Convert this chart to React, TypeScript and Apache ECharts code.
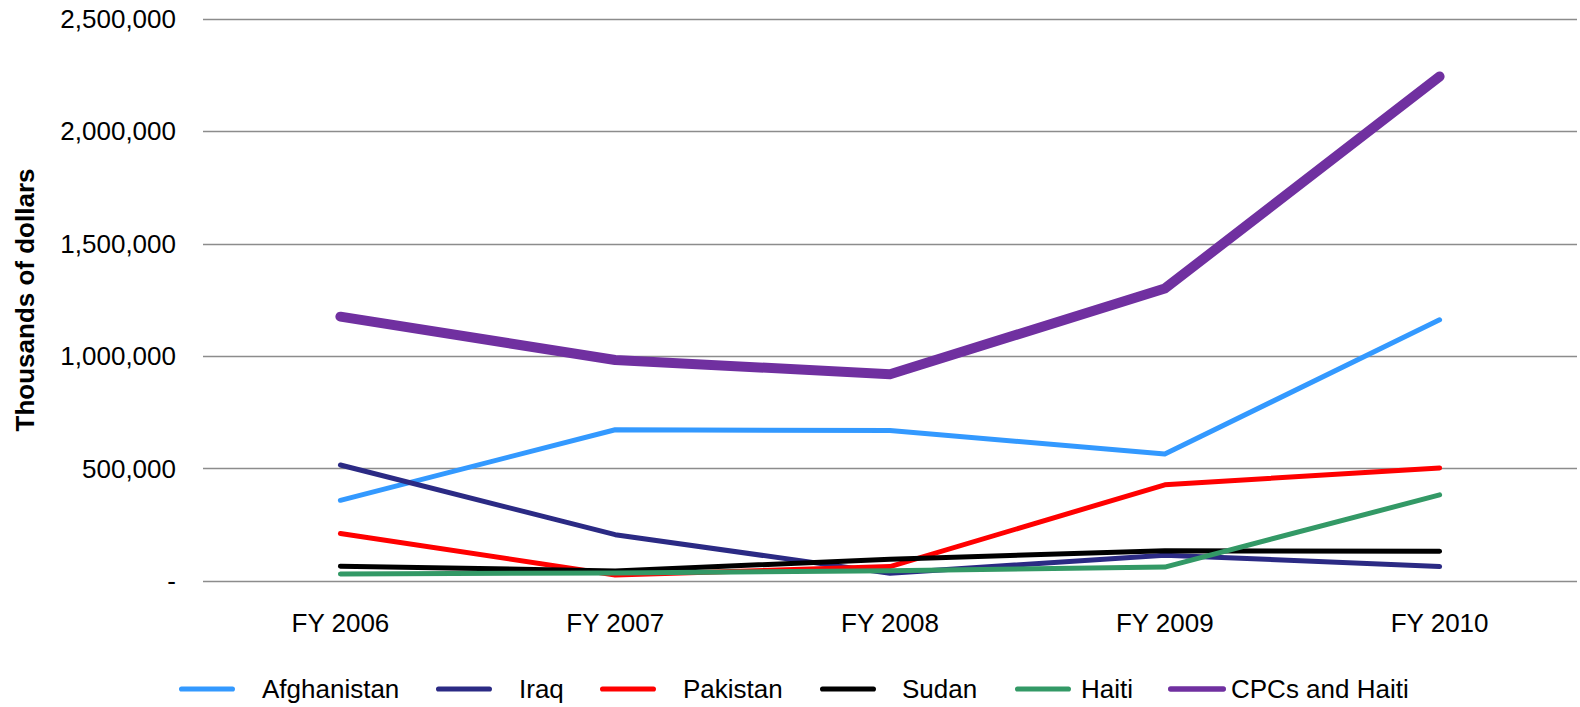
import React, { useEffect, useRef } from "react";
import * as echarts from "echarts";

const categories = ["FY 2006", "FY 2007", "FY 2008", "FY 2009", "FY 2010"];
const afghanistan = [359000, 673000, 669000, 565000, 1162000];
const iraq = [516000, 206000, 34000, 115000, 64000];
const pakistan = [211000, 27000, 64000, 428000, 503000];
const sudan = [66000, 45000, 97000, 135000, 132000];
const haiti = [31000, 36000, 46000, 62000, 383000];
const cpcsAndHaiti = [1176000, 983000, 920000, 1301000, 2244000];

const seriesNames = ["Afghanistan", "Iraq", "Pakistan", "Sudan", "Haiti", "CPCs and Haiti"];
const seriesData = [afghanistan, iraq, pakistan, sudan, haiti, cpcsAndHaiti];
const seriesColors = ["#3399FF", "#2B2A84", "#FF0000", "#000000", "#339966", "#7030A0"];
const seriesWidths = [5, 5, 5, 5, 5, 10];

// legend layout (per entry)
const legendLeft = [179, 436, 600, 820, 1015, 1168];
const legendIconWidth = [56, 56, 56, 56, 56, 58];
const legendTextPad = [22, 22, 22, 21, 5, 0];

const capsule = "path://M5,0 L105,0 A5,5 0 0 1 105,10 L5,10 A5,5 0 0 1 5,0 Z";
const FONT = "'Liberation Sans', Arial, sans-serif";

export default function App() {
  const ref = useRef<HTMLDivElement>(null);
  useEffect(() => {
    if (!ref.current) return;
    const chart = echarts.init(ref.current, undefined, { renderer: "svg" });
    chart.setOption({
      animation: false,
      grid: { left: 203, right: 3, top: 19, bottom: 126, containLabel: false },
      legend: seriesNames.map((n, i) => ({
        data: [n],
        left: legendLeft[i],
        top: 676,
        padding: 0,
        itemWidth: legendIconWidth[i],
        itemHeight: i === 5 ? 10 : 6,
        icon: capsule,
        selectedMode: false,
        textStyle: {
          fontFamily: FONT,
          fontSize: 26,
          color: "#000",
          padding: [0, 0, 0, legendTextPad[i]],
        },
      })),
      xAxis: {
        type: "category",
        data: categories,
        boundaryGap: true,
        axisLine: { show: false },
        axisTick: { show: false },
        axisLabel: { fontFamily: FONT, fontSize: 26, color: "#000", margin: 29 },
      },
      yAxis: {
        type: "value",
        min: 0,
        max: 2500000,
        interval: 500000,
        name: "Thousands of dollars",
        nameLocation: "middle",
        nameGap: 165,
        nameTextStyle: { fontFamily: FONT, fontSize: 26, fontWeight: "bold", color: "#000" },
        axisLine: { show: false },
        axisTick: { show: false },
        axisLabel: {
          fontFamily: FONT,
          fontSize: 26,
          color: "#000",
          margin: 27,
          formatter: (v: number) => (v === 0 ? "-" : v.toLocaleString("en-US")),
        },
        splitLine: { lineStyle: { color: "#8c8c8c", width: 1.3 } },
      },
      series: seriesNames.map((n, i) => ({
        name: n,
        type: "line",
        data: seriesData[i],
        showSymbol: false,
        symbol: "none",
        color: seriesColors[i],
        lineStyle: { color: seriesColors[i], width: seriesWidths[i], cap: "round", join: "round" },
        z: 2 + i,
      })),
    });
    return () => chart.dispose();
  }, []);
  return (
    <div
      ref={ref}
      style={{ position: "fixed", left: 0, top: 0, width: 1580, height: 707, background: "#fff" }}
    />
  );
}
